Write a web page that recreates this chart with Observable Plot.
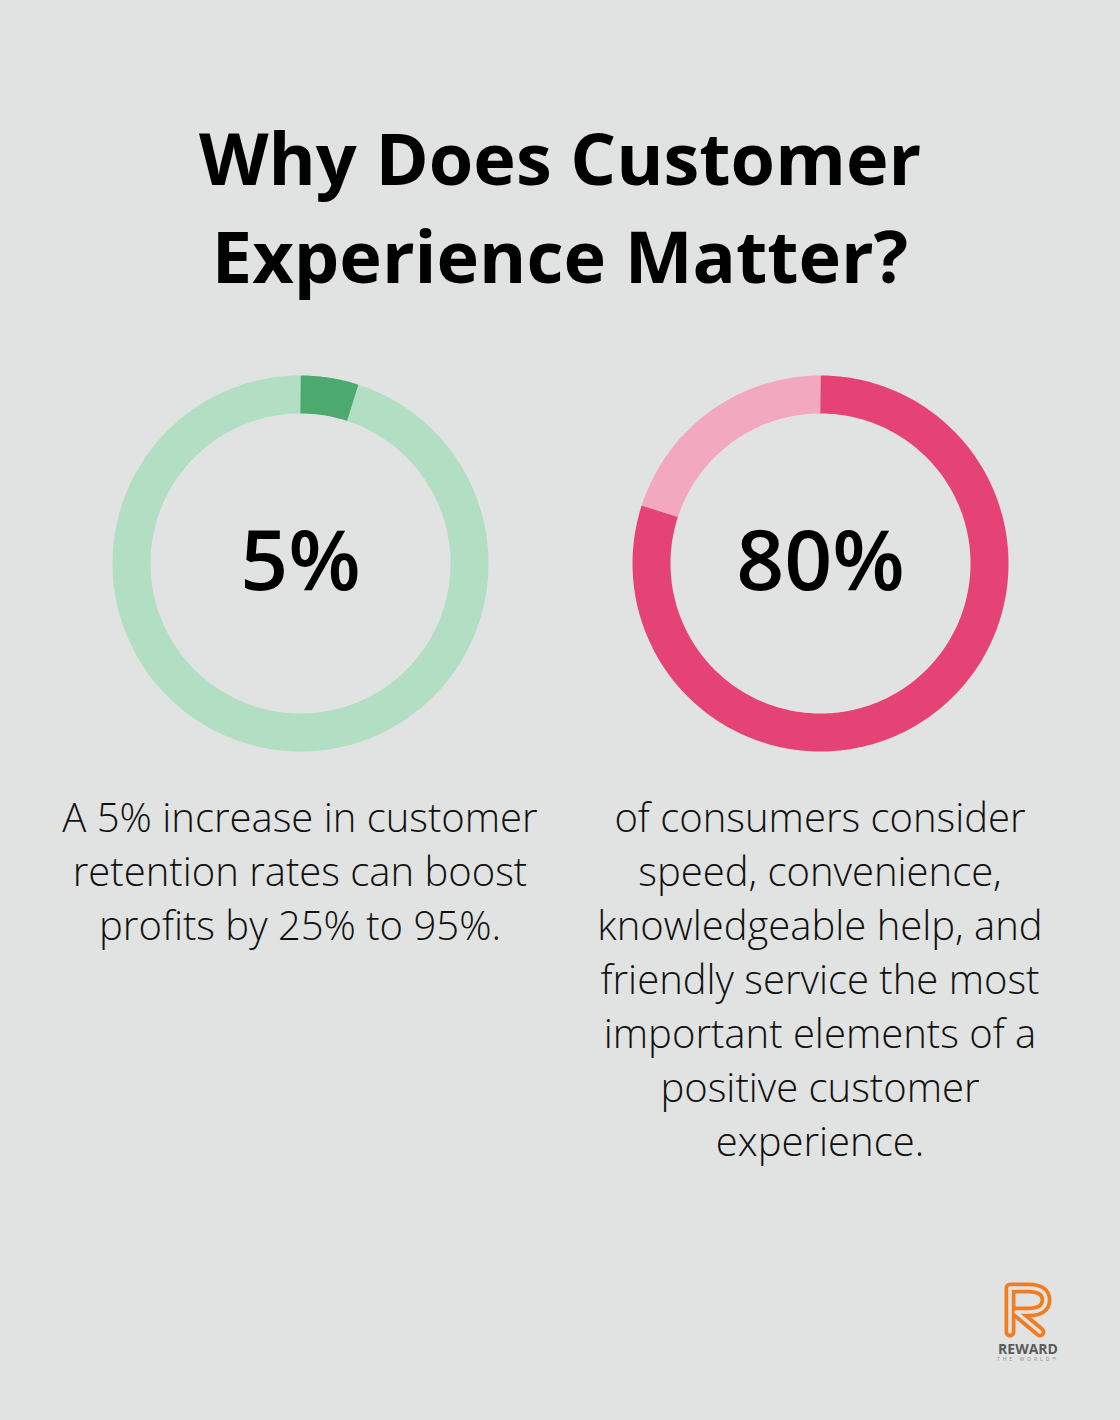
<!DOCTYPE html>
<html>
<head>
<meta charset="utf-8">
<script src="https://cdn.jsdelivr.net/npm/d3@7"></script>
<script src="https://cdn.jsdelivr.net/npm/@observablehq/plot@0.6"></script>
<style>
  html, body { margin: 0; padding: 0; background: #e1e3e2; }
  body { width: 1120px; height: 1420px; position: relative; overflow: hidden; font-family: "Open Sans", sans-serif; }
  #title { margin: 108px 0 0 0; text-align: center; font-weight: 700; font-size: 72px; line-height: 98px; color: #000; letter-spacing: 0; }
  #chart { position: absolute; left: 0; top: 363px; }
  #captions { position: absolute; left: 40px; top: 790px; width: 1040px; display: flex; }
  .cap { width: 520px; text-align: center; font-weight: 300; font-size: 40px; line-height: 54px; color: #111; white-space: pre-line; }
  #logo { position: absolute; left: 990px; top: 1280px; }
</style>
</head>
<body>
<div id="title">Why Does Customer<br>Experience Matter?</div>
<div id="chart"></div>
<div id="captions"></div>
<svg id="logo" width="80" height="90" viewBox="0 0 80 90">
  <g fill="none" stroke-linejoin="round" stroke-linecap="round">
    <path d="M20,52 L20,8 L38,8 Q56,8 56,20 Q56,32 38,32 L26,32 L50,52" stroke="#f47c20" stroke-width="11"/>
    <path d="M20,52 L20,8 L38,8 Q56,8 56,20 Q56,32 38,32 L26,32 L50,52" stroke="#e1e3e2" stroke-width="3.5"/>
  </g>
  <text x="38" y="74" text-anchor="middle" font-family="Open Sans" font-weight="700" font-size="14" fill="#5a5a5a">REWARD</text>
  <text x="38" y="81" text-anchor="middle" font-family="Open Sans" font-size="5" letter-spacing="3" fill="#8a8a8a">THE WORLD™</text>
</svg>
<script>
// ---- data ----
const stats = ["5%", "80%"];
const values = [5, 80];
const darkColors = ["#4caa6e", "#e54375"];
const lightColors = ["#b2dec4", "#f2a8bf"];
const captions = [
  ["A 5% increase in customer", "retention rates can boost", "profits by 25% to 95%."],
  ["of consumers consider", "speed, convenience,", "knowledgeable help, and", "friendly service the most", "important elements of a", "positive customer", "experience."]
];

// ---- ring geometry (style) ----
const ringMid = 169, ringWidth = 38;

function arcPoints(panel, part, fromPct, toPct) {
  const pts = [];
  const a0 = fromPct / 100 * 2 * Math.PI, a1 = toPct / 100 * 2 * Math.PI;
  const n = Math.max(2, Math.ceil((toPct - fromPct) * 3.6));
  for (let i = 0; i <= n; i++) {
    const a = a0 + (a1 - a0) * i / n;
    pts.push({panel, part, x: ringMid * Math.sin(a), y: ringMid * Math.cos(a)});
  }
  return pts;
}

const segments = [];
values.forEach((v, i) => {
  segments.push(...arcPoints(i, "light", v, 100));
  segments.push(...arcPoints(i, "dark", 0, v));
});
const labels = stats.map((s, i) => ({panel: i, label: s, x: 0, y: 0}));

const plot = Plot.plot({
  width: 1120,
  height: 400,
  marginLeft: 40,
  marginRight: 40,
  marginTop: 0,
  marginBottom: 0,
  style: {background: "transparent", fontFamily: "Open Sans"},
  fx: {domain: [0, 1], padding: 0, axis: null},
  x: {domain: [-260, 260], axis: null},
  y: {domain: [-200, 200], axis: null},
  marks: [
    Plot.line(segments, {
      fx: "panel", x: "x", y: "y",
      z: d => d.panel + "-" + d.part,
      stroke: d => d.part === "dark" ? darkColors[d.panel] : lightColors[d.panel],
      strokeWidth: ringWidth,
      strokeLinecap: "butt",
      strokeLinejoin: "round"
    }),
    Plot.text(labels, {
      fx: "panel", x: "x", y: "y", text: "label",
      fontSize: 84, fontWeight: 600, fill: "#000"
    })
  ]
});
document.getElementById("chart").appendChild(plot);

const capDiv = document.getElementById("captions");
captions.forEach(lines => {
  const d = document.createElement("div");
  d.className = "cap";
  d.textContent = lines.join("\n");
  capDiv.appendChild(d);
});
</script>
</body>
</html>
